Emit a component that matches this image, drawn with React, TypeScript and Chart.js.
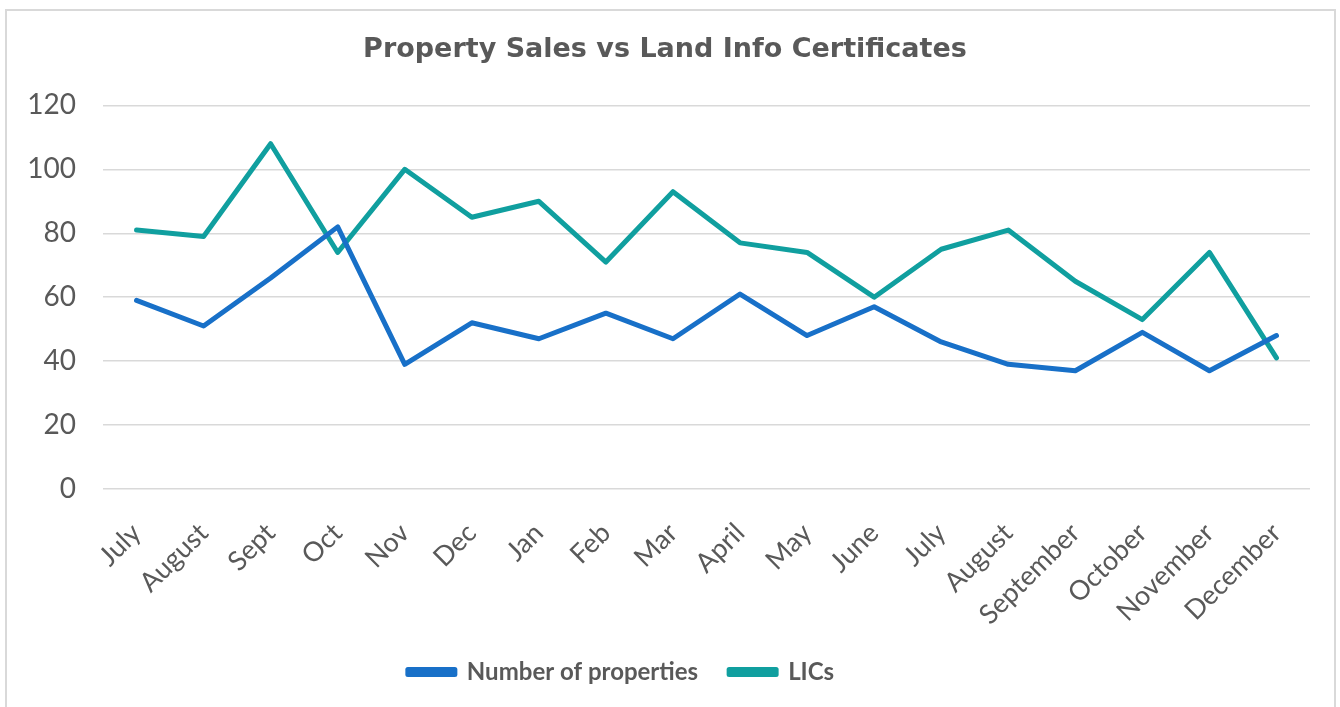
import React, { useEffect, useRef } from "react";
import { Chart, registerables } from "chart.js";

Chart.register(...registerables);

const categories = [
  "July", "August", "Sept", "Oct", "Nov", "Dec", "Jan", "Feb", "Mar",
  "April", "May", "June", "July", "August", "September", "October", "November", "December",
];
const numberOfProperties = [59, 51, 66, 82, 39, 52, 47, 55, 47, 61, 48, 57, 46, 39, 37, 49, 37, 48];
const lics = [81, 79, 108, 74, 100, 85, 90, 71, 93, 77, 74, 60, 75, 81, 65, 53, 74, 41];
const yTicks = [0, 20, 40, 60, 80, 100, 120];

const TEXT = "#595959";
const FONT = "Lato, 'Open Sans', sans-serif";

const legendShift = {
  id: "legendShift",
  afterLayout(chart: any) {
    const lg = chart.legend;
    if (lg) {
      lg.left -= 44;
      lg.right -= 44;
    }
  },
};

export default function App() {
  const ref = useRef<HTMLCanvasElement | null>(null);

  useEffect(() => {
    if (!ref.current) return;
    const chart = new Chart(ref.current, {
      type: "line",
      data: {
        labels: categories,
        datasets: [
          {
            label: "Number of properties",
            data: numberOfProperties,
            borderColor: "#1870C8",
            backgroundColor: "#1870C8",
            borderWidth: 5,
            pointRadius: 0,
            tension: 0,
            borderJoinStyle: "round",
            borderCapStyle: "round",
          },
          {
            label: "LICs",
            data: lics,
            borderColor: "#109F9F",
            backgroundColor: "#109F9F",
            borderWidth: 5,
            pointRadius: 0,
            tension: 0,
            borderJoinStyle: "round",
            borderCapStyle: "round",
          },
        ],
      },
      plugins: [legendShift],
      options: {
        responsive: false,
        animation: false,
        maintainAspectRatio: false,
        layout: { padding: { left: 20, right: 30, top: 0, bottom: 13 } },
        plugins: {
          title: {
            display: true,
            text: "Property Sales vs Land Info Certificates",
            color: TEXT,
            font: { family: "'DejaVu Sans', sans-serif", size: 27, weight: "bold" },
            padding: { top: 34, bottom: 39 },
          },
          legend: {
            position: "bottom",
            labels: {
              color: TEXT,
              font: { family: FONT, size: 24, weight: "bold" },
              boxWidth: 47,
              boxHeight: 5,
              padding: 31,
            },
          },
          tooltip: { enabled: false },
        },
        scales: {
          x: {
            offset: true,
            grid: { display: false },
            border: { display: false },
            ticks: {
              color: TEXT,
              font: { family: FONT, size: 27 },
              minRotation: 45,
              maxRotation: 45,
              padding: 20,
              autoSkip: false,
            },
            afterFit: (scale: any) => {
              scale.height = 140;
            },
          },
          y: {
            min: 0,
            max: 120,
            afterBuildTicks: (scale: any) => {
              scale.ticks = yTicks.map((v) => ({ value: v }));
            },
            grid: { color: "#D9D9D9", lineWidth: 1.5, drawTicks: false },
            border: { display: false },
            ticks: {
              color: TEXT,
              font: { family: FONT, size: 28 },
              padding: 27,
            },
            afterFit: (scale: any) => {
              scale.width = 83;
            },
          },
        },
      },
    });
    return () => chart.destroy();
  }, []);

  return (
    <div style={{ position: "fixed", left: 0, top: 0, width: 1340, height: 707, background: "#fff", overflow: "hidden" }}>
      <div
        style={{
          position: "absolute",
          left: 5,
          top: 9,
          width: 1331,
          height: 720,
          border: "2px solid #D9D9D9",
          boxSizing: "border-box",
        }}
      />
      <canvas ref={ref} width={1340} height={707} style={{ position: "absolute", left: 0, top: 0 }} />
    </div>
  );
}
